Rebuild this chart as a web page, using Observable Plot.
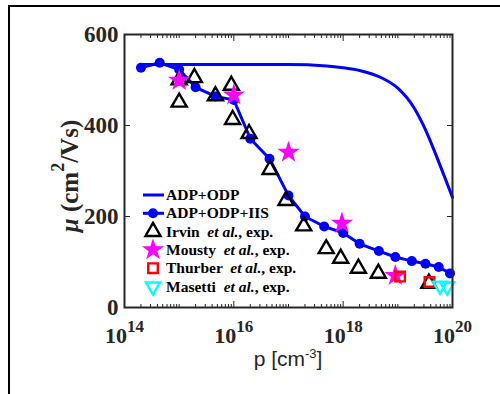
<!DOCTYPE html>
<html><head><meta charset="utf-8">
<script src="https://cdn.jsdelivr.net/npm/d3@7"></script>
<script src="https://cdn.jsdelivr.net/npm/@observablehq/plot@0.6"></script>
<style>
html,body{margin:0;padding:0;background:#fff;overflow:hidden}
#wrap{position:relative;width:500px;height:394px;overflow:hidden}
#border{position:absolute;left:8px;top:5px;width:600px;height:600px;border-left:2px solid #000;border-top:2px solid #000;pointer-events:none}
#chart svg{display:block}
</style></head><body>
<div id="wrap"><div id="chart"></div><div id="border"></div></div>
<script>
// ---- data (hole concentration p in cm^-3, mobility mu in cm^2/Vs) ----
const adpOdpP  = [2e14, 1e15, 1e16, 1e17, 5e17, 1e18, 2e18, 5e18, 1e19, 2e19, 3e19, 5e19, 7e19, 1e20];
const adpOdpMu = [534, 534, 534, 534, 531, 527, 521, 505, 482, 438, 398, 335, 290, 242];

const iisP  = [2e14, 4.4e14, 1e15, 2e15, 4.6e15, 1e16, 2e16, 4.5e16, 1e17, 2e17, 4.5e17, 1e18, 2e18, 4.5e18, 9e18, 1.8e19, 3.2e19, 5.6e19, 9e19];
const iisMu = [527, 538, 523, 484, 464, 456, 371, 327, 246, 200, 178, 164, 140, 124, 111, 102, 96, 89, 75];

const irvinP  = [1e15, 1e15, 1.9e15, 4.6e15, 9e15, 9.5e15, 1.9e16, 4.6e16, 9e16, 1.9e17, 4.9e17, 9e17, 1.9e18, 4.4e18, 3.7e19];
const irvinMu = [451, 500, 505, 465, 488, 413, 382, 303, 235, 179, 129, 108, 86, 75, 53];

const mouRP  = [1e15, 1e16, 1e17, 9.5e17, 9e18];
const mouRMu = [499, 467, 341, 185, 70];

const thurP  = [1.1e19, 3.8e19];
const thurMu = [68, 56];

const masP  = [5.9e19, 8e19];
const masMu = [48, 46];

const seriesNames = ["ADP+ODP", "ADP+ODP+IIS", "Irvin", "Mousty", "Thurber", "Masetti"];
const xTickLabels = [1e14, 1e16, 1e18, 1e20];
const yTicks = [0, 200, 400, 600];
const xMinor = [];
for (let e = 14; e < 20; e++) for (let m = 1; m <= 9; m++) {
  if (m === 1 && e % 2 === 0) continue;
  xMinor.push(m * Math.pow(10, e));
}

const zip = (P, M) => P.map((p, i) => ({p, mu: M[i]}));
const adpOdp = zip(adpOdpP, adpOdpMu);
const iis = zip(iisP, iisMu);
const irvin = zip(irvinP, irvinMu);
const mousty = zip(mouRP, mouRMu);
const thurber = zip(thurP, thurMu);
const masetti = zip(masP, masMu);

const BLUE = "#0000ff", MAG = "#ff00ff", RED = "#ff0000", CYAN = "#00ffff", AX = "#262626";
const SERIF = "'Liberation Serif', 'Times New Roman', serif";
const R = {dot: 5, tri: 5.6, star: 7, sq: 5.4, tri2: 5.2};

const chart = Plot.plot({
  width: 500, height: 394,
  marginLeft: 124, marginRight: 48, marginTop: 34, marginBottom: 87,
  x: {type: "log", domain: [1e14, 1e20], axis: null},
  y: {domain: [0, 600], axis: null},
  style: {fontFamily: SERIF, background: "transparent", overflow: "visible"},
  marks: [
    Plot.line(adpOdp, {x: "p", y: "mu", stroke: BLUE, strokeWidth: 3, curve: "monotone-x"}),
    Plot.line(iis, {x: "p", y: "mu", stroke: BLUE, strokeWidth: 3}),
    Plot.dot(iis, {x: "p", y: "mu", r: R.dot, fill: BLUE}),
    Plot.dot(irvin, {x: "p", y: "mu", symbol: "triangle", r: R.tri, stroke: "#000", strokeWidth: 2.4, fill: "none"}),
    Plot.dot(mousty, {x: "p", y: "mu", symbol: "star", r: R.star, fill: MAG}),
    Plot.dot(thurber, {x: "p", y: "mu", symbol: "square", r: R.sq, stroke: RED, strokeWidth: 2.4, fill: "none"}),
    Plot.dot(masetti, {x: "p", y: "mu", symbol: "triangle", rotate: 180, r: R.tri2, stroke: CYAN, strokeWidth: 2.4, fill: "none"}),
    Plot.frame({stroke: AX, strokeWidth: 2}),
    Plot.axisX({anchor: "bottom", ticks: xTickLabels, tickSize: -6, fill: "none", label: null, stroke: AX}),
    Plot.axisX({anchor: "top", ticks: xTickLabels, tickSize: -6, fill: "none", label: null, stroke: AX}),
    Plot.axisX({anchor: "bottom", ticks: xMinor, tickSize: -3, fill: "none", label: null, stroke: AX}),
    Plot.axisX({anchor: "top", ticks: xMinor, tickSize: -3, fill: "none", label: null, stroke: AX}),
    Plot.axisY({anchor: "left", ticks: yTicks, tickSize: -6, fill: "none", label: null, stroke: AX}),
    Plot.axisY({anchor: "right", ticks: yTicks, tickSize: -6, fill: "none", label: null, stroke: AX}),
    Plot.axisX({anchor: "bottom", ticks: xTickLabels, tickSize: 0, tickPadding: 20, label: null,
      fontSize: 22, fontWeight: "bold", fill: AX,
      tickFormat: d => "10^" + Math.round(Math.log10(d))}),
    Plot.axisY({anchor: "left", ticks: yTicks, tickSize: 0, tickPadding: 6, label: null,
      fontSize: 23, fontWeight: "bold", fill: AX, tickFormat: d => String(d)})
  ]
});
document.getElementById("chart").appendChild(chart);

const svg = d3.select(chart);
// superscripts for x tick labels
svg.selectAll('g[aria-label="x-axis tick label"] text').each(function () {
  const t = this.textContent;
  if (!t.includes("^")) return;
  const [b, e] = t.split("^");
  this.textContent = "";
  const s = d3.select(this);
  s.append("tspan").text(b);
  s.append("tspan").attr("dy", -11).attr("font-size", 17).text(e);
});

// axis titles
const xt = svg.append("text").attr("x", 288).attr("y", 366).attr("text-anchor", "middle")
  .attr("font-family", "'Liberation Sans', Arial, sans-serif").attr("font-size", 21).attr("fill", AX);
xt.append("tspan").text("p [cm");
xt.append("tspan").attr("dy", -8).attr("font-size", 13).text("-3");
xt.append("tspan").attr("dy", 8).text("]");

const yt = svg.append("text").attr("transform", "translate(78,176) rotate(-90)").attr("text-anchor", "middle")
  .attr("font-family", SERIF).attr("font-size", 25).attr("font-weight", "bold").attr("fill", AX);
yt.append("tspan").attr("font-style", "italic").text("\u03bc");
yt.append("tspan").text(" (cm");
yt.append("tspan").attr("dy", -14).attr("font-size", 18).text("2");
yt.append("tspan").attr("dy", 14).text("/Vs)");

// legend
const lg = svg.append("g").attr("font-family", SERIF).attr("font-size", 15.5).attr("font-weight", "bold")
  .attr("fill", "#000").attr("text-anchor", "start");
const rowY = i => 195 + i * 18.3;
const sx = 153, tx = 166;
const sym = (type, r) => d3.symbol(type, Math.PI * r * r)();
lg.append("line").attr("x1", 143).attr("x2", 164).attr("y1", rowY(0)).attr("y2", rowY(0)).attr("stroke", BLUE).attr("stroke-width", 3);
lg.append("line").attr("x1", 143).attr("x2", 164).attr("y1", rowY(1)).attr("y2", rowY(1)).attr("stroke", BLUE).attr("stroke-width", 3);
lg.append("circle").attr("cx", sx).attr("cy", rowY(1)).attr("r", R.dot).attr("fill", BLUE);
lg.append("path").attr("d", sym(d3.symbolTriangle, R.tri)).attr("transform", `translate(${sx},${rowY(2)})`).attr("fill", "none").attr("stroke", "#000").attr("stroke-width", 2.4);
lg.append("path").attr("d", sym(d3.symbolStar, R.star)).attr("transform", `translate(${sx},${rowY(3)})`).attr("fill", MAG);
lg.append("path").attr("d", sym(d3.symbolSquare, R.sq)).attr("transform", `translate(${sx},${rowY(4)})`).attr("fill", "none").attr("stroke", RED).attr("stroke-width", 2.4);
lg.append("path").attr("d", sym(d3.symbolTriangle, R.tri2)).attr("transform", `translate(${sx},${rowY(5)}) rotate(180)`).attr("fill", "none").attr("stroke", CYAN).attr("stroke-width", 2.4);

seriesNames.forEach((name, i) => {
  const t = lg.append("text").attr("x", tx).attr("y", rowY(i) + 5).style("white-space", "pre");
  if (i < 2) { t.text(name); return; }
  t.append("tspan").text(name + "  ");
  t.append("tspan").attr("font-style", "italic").text("et al.");
  t.append("tspan").text(", exp.");
});
</script>
</body></html>
